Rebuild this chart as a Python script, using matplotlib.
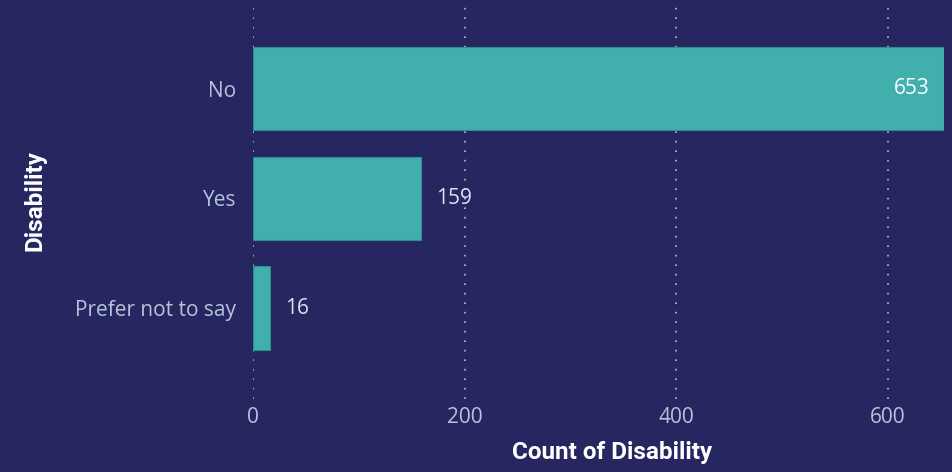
import matplotlib
matplotlib.use("Agg")
import matplotlib.pyplot as plt

categories = ["No", "Yes", "Prefer not to say"]
counts = [653, 159, 16]
xticks = [0, 200, 400, 600]

BG = "#262760"
BAR = "#41B0AC"
TICK = "#B8C3D8"

fig = plt.figure(figsize=(9.53, 4.72), dpi=100, facecolor=BG)
ax = fig.add_axes([253/953, 73/472, (944-253)/953, 399/472])
ax.set_facecolor(BG)

ypos = list(range(len(categories)))
ax.barh(ypos, counts, height=0.76, color=BAR, edgecolor="#2E8E8E", linewidth=0.8, zorder=3)

ax.set_xlim(0, 653)
ax.set_ylim(2.83, -0.81)
ax.set_xticks(xticks)
ax.set_xticklabels([str(t) for t in xticks])
ax.set_yticks(ypos)
ax.set_yticklabels(categories)
ax.tick_params(axis="both", length=0, colors=TICK, labelsize=15)
ax.tick_params(axis="y", pad=12)
ax.tick_params(axis="x", pad=6)
for lab in ax.get_xticklabels() + ax.get_yticklabels():
    lab.set_fontfamily("Open Sans")
    lab.set_color(TICK)

for s in ax.spines.values():
    s.set_visible(False)

for t in xticks:
    ax.axvline(t, color="#B8BDD0", linestyle=(0, (1, 4.7)), linewidth=1.2, zorder=1)

for y, v in zip(ypos, counts):
    if v > 500:
        ax.text(v - 14, y, str(v), ha="right", va="center", color="white",
                fontsize=15, fontfamily="Open Sans", zorder=4)
    else:
        ax.text(v + 14, y, str(v), ha="left", va="center", color="#DCE2EE",
                fontsize=15, fontfamily="Open Sans", zorder=4)

fig.text(612/953, 1 - 453/472, "Count of Disability", ha="center", va="center",
         color="white", fontsize=17.5, fontweight="bold", fontfamily="Roboto")
fig.text(35/953, 1 - 201/472, "Disability", ha="center", va="center", rotation=90,
         color="white", fontsize=17.5, fontweight="bold", fontfamily="Roboto")

fig.savefig("out.png", dpi=100, facecolor=BG)
